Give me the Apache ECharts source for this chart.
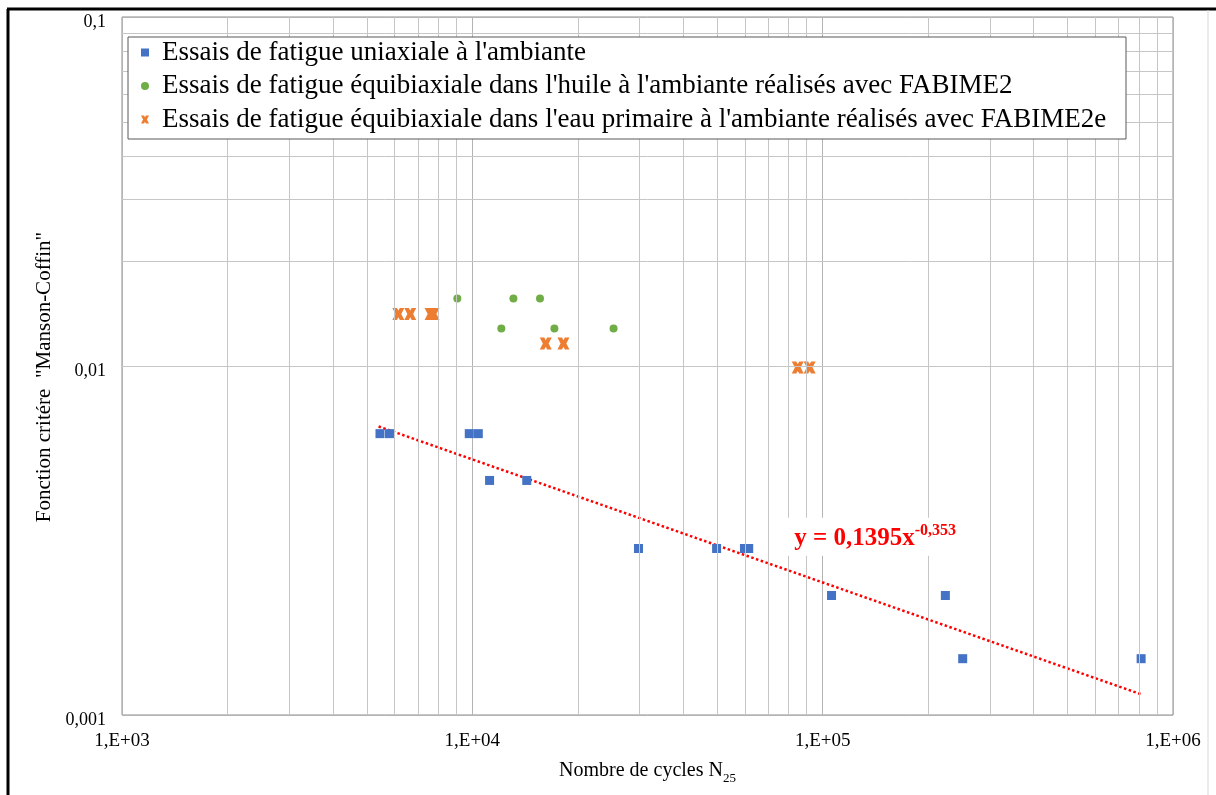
<!DOCTYPE html>
<html>
<head>
<meta charset="utf-8">
<title>Fonction critère Manson-Coffin</title>
<script src="https://cdn.jsdelivr.net/npm/echarts@6/dist/echarts.min.js"></script>
<style>
  html, body { margin: 0; padding: 0; background: #fff; }
  #chart { width: 1216px; height: 795px; }
</style>
</head>
<body>
<div id="chart"></div>
<script>
// Uniaxial fatigue tests at room temperature: [cycles N25, criterion]
const uniaxial = [
  [5450, 0.0064], [5800, 0.0064],
  [9800, 0.0064], [10400, 0.0064],
  [11200, 0.0047], [14300, 0.0047],
  [29800, 0.0030], [49800, 0.0030],
  [59800, 0.0030], [61500, 0.0030],
  [106000, 0.0022], [224000, 0.0022],
  [251000, 0.00145], [811000, 0.00145]
];

// Equibiaxial fatigue in oil (FABIME2)
const biaxialOil = [
  [9060, 0.0156], [13100, 0.0156], [15600, 0.0156],
  [12100, 0.0128], [17150, 0.0128], [25300, 0.0128]
];

// Equibiaxial fatigue in primary water (FABIME2e)
const biaxialWater = [
  [6150, 0.0141], [6650, 0.0141], [7600, 0.0141], [7750, 0.0141],
  [16200, 0.0116], [18200, 0.0116],
  [84900, 0.0099], [91800, 0.0099]
];

// Power-law fit y = 0,1395 x^-0,353 evaluated at its two ends
const trendEnds = [[5400, 0.00671], [818000, 0.001143]];
const trendLabelAt = [144000, 0.00324];

const seriesNames = [
  "Essais de fatigue uniaxiale à l'ambiante",
  "Essais de fatigue équibiaxiale dans l'huile à l'ambiante réalisés avec FABIME2",
  "Essais de fatigue équibiaxiale dans l'eau primaire à l'ambiante réalisés avec FABIME2e"
];

const xTickLabels = ['1,E+03', '1,E+04', '1,E+05', '1,E+06'];
const yTickLabels = ['0,001', '0,01', '0,1'];

// Intermediate gridline positions of each decade
const xMinor = [2000, 3000, 4000, 5000, 6000, 7000, 8000, 9000,
                20000, 30000, 40000, 50000, 60000, 70000, 80000, 90000,
                200000, 300000, 400000, 500000, 600000, 700000, 800000, 900000];
const yMinor = [0.002, 0.003, 0.004, 0.005, 0.006, 0.007, 0.008, 0.009,
                0.02, 0.03, 0.04, 0.05, 0.06, 0.07, 0.08, 0.09];

const SERIF = "'Liberation Serif', 'Times New Roman', serif";
// thick bow-tie cross marker
const crossPath = 'path://M0,0 L3.8,0 L5,2.2 L6.2,0 L10,0 L7.4,5 L10,10 L6.2,10 L5,7.8 L3.8,10 L0,10 L2.6,5 Z';

const chart = echarts.init(document.getElementById('chart'), null, { renderer: 'canvas' });

const minorLines = []
  .concat(xMinor.map(v => ({ xAxis: v })))
  .concat(yMinor.map(v => ({ yAxis: v })));

chart.setOption({
  backgroundColor: '#ffffff',
  animation: false,
  grid: {
    left: 122, right: 43, top: 17, bottom: 80,
    show: true, borderColor: '#8c8c8c', borderWidth: 1, backgroundColor: 'transparent'
  },
  graphic: [
    { type: 'line', shape: { x1: 8, y1: 9, x2: 8, y2: 795 }, style: { stroke: '#000', lineWidth: 3 } },
    { type: 'line', shape: { x1: 7, y1: 9, x2: 1216, y2: 9 }, style: { stroke: '#000', lineWidth: 3 } },
    { type: 'line', shape: { x1: 1208, y1: 10, x2: 1208, y2: 795 }, style: { stroke: '#d8d8d8', lineWidth: 1 } }
  ],
  legend: {
    data: seriesNames,
    orient: 'vertical',
    left: 128, top: 37,
    z: 100,
    padding: [2, 9, 6, 13],
    itemGap: 6.5,
    itemWidth: 8, itemHeight: 8,
    backgroundColor: '#ffffff',
    borderColor: '#595959', borderWidth: 1, borderRadius: 0,
    textStyle: {
      fontFamily: SERIF, fontSize: 27, color: '#000',
      lineHeight: 26, padding: [0, 0, 0, 8], width: 955
    }
  },
  xAxis: {
    type: 'log', logBase: 10, min: 1000, max: 1000000,
    name: '{n|Nombre de cycles N}{s|25}',
    nameLocation: 'middle', nameGap: 44,
    nameTextStyle: {
      rich: {
        n: { fontFamily: SERIF, fontSize: 20, color: '#000', lineHeight: 22, verticalAlign: 'bottom' },
        s: { fontFamily: SERIF, fontSize: 13, color: '#000', lineHeight: 13, verticalAlign: 'bottom', padding: [0, 0, -4, 0] }
      }
    },
    axisLine: { show: false },
    axisTick: { show: false },
    axisLabel: {
      fontFamily: SERIF, fontSize: 19, color: '#000', margin: 17,
      formatter: v => xTickLabels[Math.round(Math.log10(v)) - 3]
    },
    splitLine: { show: true, lineStyle: { color: '#b4b4b4', width: 1 } },
    minorTick: { show: false },
    minorSplitLine: { show: false }
  },
  yAxis: {
    type: 'log', logBase: 10, min: 0.001, max: 0.1,
    name: 'Fonction critére  "Manson-Coffin"',
    nameLocation: 'middle', nameGap: 66,
    nameTextStyle: { fontFamily: SERIF, fontSize: 21, color: '#000', padding: [0, 22, 0, 0] },
    axisLine: { show: false },
    axisTick: { show: false },
    axisLabel: {
      fontFamily: SERIF, fontSize: 18, color: '#000', margin: 16,
      verticalAlign: 'top', lineHeight: 10,
      formatter: v => yTickLabels[Math.round(Math.log10(v)) + 3]
    },
    splitLine: { show: true, lineStyle: { color: '#b4b4b4', width: 1 } }
  },
  series: [
    {
      name: 'grille',
      type: 'scatter',
      data: [],
      silent: true,
      z: 1,
      markLine: {
        silent: true,
        symbol: ['none', 'none'],
        label: { show: false },
        lineStyle: { color: '#c6c6c6', width: 1, type: 'solid' },
        emphasis: { disabled: true },
        data: minorLines
      }
    },
    {
      name: 'tendance',
      type: 'line',
      data: trendEnds,
      showSymbol: false,
      symbol: 'none',
      z: 3,
      lineStyle: { color: '#ff0000', width: 2.5, type: [2.5, 2.5] },
      markPoint: {
        symbol: 'rect',
        symbolSize: 0,
        silent: true,
        data: [{ coord: trendLabelAt }],
        label: {
          show: true,
          position: 'inside',
          formatter: '{m|y = 0,1395x}{p|-0,353}',
          backgroundColor: '#ffffff',
          padding: [5, 14, 5, 8],
          rich: {
            m: { fontFamily: SERIF, fontSize: 25, fontWeight: 'bold', color: '#ff0000', lineHeight: 28, verticalAlign: 'bottom' },
            p: { fontFamily: SERIF, fontSize: 16, fontWeight: 'bold', color: '#ff0000', lineHeight: 16, verticalAlign: 'top' }
          }
        }
      }
    },
    {
      name: seriesNames[0],
      type: 'scatter',
      data: uniaxial,
      symbol: 'rect',
      symbolSize: 9,
      z: 4,
      itemStyle: { color: '#4472c4', opacity: 1 }
    },
    {
      name: seriesNames[1],
      type: 'scatter',
      data: biaxialOil,
      symbol: 'circle',
      symbolSize: 8,
      z: 4,
      itemStyle: { color: '#70ad47', opacity: 1 }
    },
    {
      name: seriesNames[2],
      type: 'scatter',
      data: biaxialWater,
      symbol: crossPath,
      symbolSize: 12,
      z: 4,
      itemStyle: { color: '#ed7d31', opacity: 1 }
    }
  ]
});
</script>
</body>
</html>
